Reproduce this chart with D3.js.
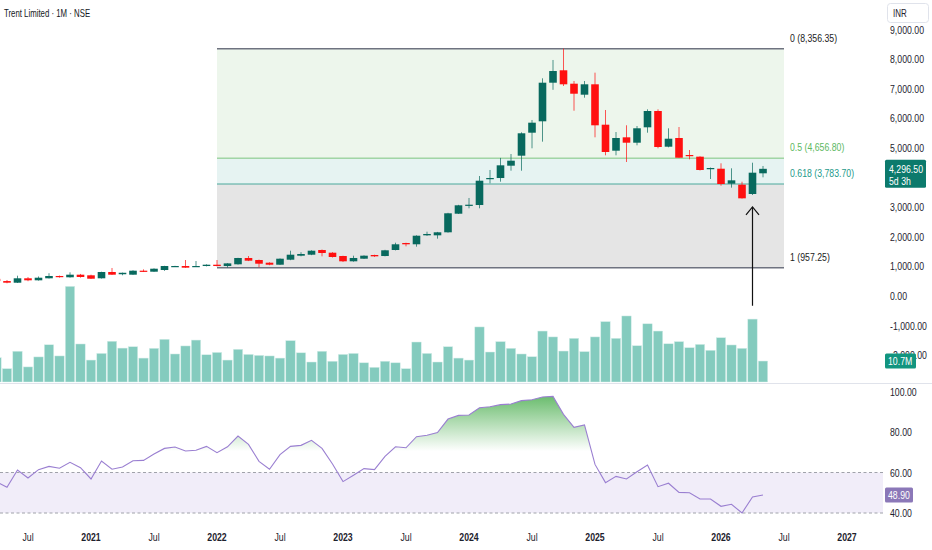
<!DOCTYPE html>
<html><head><meta charset="utf-8">
<script src="https://cdn.jsdelivr.net/npm/d3@7"></script>
<style>
html,body{margin:0;padding:0;background:#fff;}
svg{display:block;font-family:"Liberation Sans",Arial,sans-serif;}
</style></head><body>
<svg id="c" width="932" height="550"></svg>
<script>
// ---------------- DATA ----------------
const title = "Trent Limited · 1M · NSE";
const months = [
 "2020-04","2020-05","2020-06","2020-07","2020-08","2020-09","2020-10","2020-11","2020-12",
 "2021-01","2021-02","2021-03","2021-04","2021-05","2021-06","2021-07","2021-08","2021-09","2021-10","2021-11","2021-12",
 "2022-01","2022-02","2022-03","2022-04","2022-05","2022-06","2022-07","2022-08","2022-09","2022-10","2022-11","2022-12",
 "2023-01","2023-02","2023-03","2023-04","2023-05","2023-06","2023-07","2023-08","2023-09","2023-10","2023-11","2023-12",
 "2024-01","2024-02","2024-03","2024-04","2024-05","2024-06","2024-07","2024-08","2024-09","2024-10","2024-11","2024-12",
 "2025-01","2025-02","2025-03","2025-04","2025-05","2025-06","2025-07","2025-08","2025-09","2025-10","2025-11","2025-12",
 "2026-01","2026-02","2026-03","2026-04","2026-05"];
const open = [
 580,505,449,598,530,598,676,632,720,
 699,598,811,735,720,855,821,878,1000,1013,990,1013,
 1057,1013,1071,1284,1216,1125,1057,1226,1361,1395,1554,1463,
 1351,1172,1260,1385,1351,1554,1790,1747,2050,2050,2152,2780,
 3050,3074,3953,3986,4402,4740,5517,5902,7206,7625,7172,6801,
 7152,5787,4909,5361,5179,5699,6250,5044,5338,4763,4707,4300,
 4300,3794,3760,3446,4145];
const high = [
 600,540,686,640,660,770,690,800,745,
 720,820,946,790,870,900,935,1020,1020,1216,1182,1070,
 1216,1110,1290,1351,1230,1140,1270,1530,1480,1545,1570,1480,
 1360,1362,1375,1395,1560,1801,1800,2050,2172,2165,2810,3080,
 3311,4054,4257,4665,4797,5530,5946,7354,7973,8356.35,7264,7264,
 7545,6284,5540,5767,5743,6306,6306,5665,5709,4932,4720,4340,
 4483,4314,3861,4503,4392];
const low = [
 480,430,440,500,520,590,620,620,620,
 575,590,710,700,715,810,815,850,980,950,980,1000,
 1000,960,1060,1180,970,1040,1050,1210,1340,1380,1340,1300,
 1150,1160,1250,1320,1340,1540,1678,1666,2030,1937,2140,2770,
 2963,2963,3808,3862,4233,4233,4990,5214,6966,7095,6260,6700,
 5361,4753,4753,4527,5091,5517,4990,5023,4672,4617,4240,3953,
 3727,3660,3290,3412,4010];
const close = [
 505,450,598,530,618,676,642,720,642,
 584,811,720,785,855,821,922,1013,1013,957,1013,1057,
 1013,1102,1284,1193,1091,1057,1260,1395,1419,1530,1453,1318,
 1172,1284,1362,1340,1544,1747,1747,2037,2095,2152,2794,3064,
 3084,3895,3986,4415,4571,5497,5855,7206,7601,7152,6834,7152,
 5767,4865,5338,5179,5666,6250,5034,5314,4672,4730,4257,4324,
 3784,3908,3300,4166,4296.5];
const volume = [ // millions
 12.4,6.8,15.7,7.7,12.8,19.0,13.3,48.8,19.4,
 11.2,14.6,20.8,17.3,18.0,12.2,17.2,21.8,14.3,18.4,21.4,13.9,
 15.1,11.2,16.7,14.1,13.6,13.3,12.2,21.1,14.9,10.2,15.7,10.6,
 14.1,14.6,9.8,7.5,10.6,9.8,6.8,20.4,14.6,10.2,18.0,12.2,
 11.2,28.1,15.3,20.6,17.2,14.3,12.9,26.0,23.0,15.8,22.3,15.5,
 23.0,30.8,22.3,33.7,18.5,29.7,26.0,19.5,20.6,17.5,19.2,16.2,
 22.6,18.9,17.2,32.1,10.7];
const rsi = [
 55.4,52.7,61.2,57.3,61.4,63.0,62.1,65.0,62.4,
 56.8,65.7,61.6,62.7,65.8,66.0,69.1,71.9,72.6,70.6,71.0,72.9,
 69.8,72.7,78.0,73.9,65.5,61.6,68.8,72.9,73.4,75.9,71.9,64.2,
 55.5,58.6,61.9,61.4,68.0,72.7,72.2,77.7,78.4,79.7,86.4,88.2,
 88.4,92.0,92.5,93.5,93.8,95.5,95.9,97.3,97.6,88.7,82.3,83.5,
 64.0,55.0,58.1,56.8,60.4,63.7,53.0,54.7,50.2,50.0,46.9,46.9,
 43.3,44.3,40.0,47.9,48.9];
// 4,000.00 is hidden by the last-price tag in the reference
const priceTicks = [9000,8000,7000,6000,5000,3000,2000,1000,0,-1000,-2000];
const rsiTicks = [100,80,60,40];
const rsiBands = [60,40];
const timeTicks = ["2020-07","2021-01","2021-07","2022-01","2022-07","2023-01","2023-07","2024-01","2024-07","2025-01","2025-07","2026-01","2026-07","2027-01"];
const timeTickLabels = ["Jul","2021","Jul","2022","Jul","2023","Jul","2024","Jul","2025","Jul","2026","Jul","2027"];
const fibHigh = 8356.35, fibLow = 957.25;
const fibLevels = [0, 0.5, 0.618, 1];
const fibStart = "2022-01", fibEnd = "2026-07";
const arrowMonth = "2026-04", arrowFrom = -330, arrowTo = 3010;
const lastPriceLabel = ["4,296.50","5d 3h"];
const lastVolLabel = "10.7M";
const lastRsiLabel = "48.90";

// ---------------- SCALES ----------------
const mIdx = s => { const [y,m] = s.split("-").map(Number); return (y-2020)*12 + (m-1); };
const x = d3.scaleLinear().domain([12, 84]).range([91, 847]);
const yP = d3.scaleLinear().domain([0, 9000]).range([296, 29.6]);
const yV = d3.scaleLinear().domain([0, 50]).range([382, 284]);
const yR = d3.scaleLinear().domain([40, 100]).range([513, 391.5]);
const plotW = 883;
const SX = 0.76; // condensed text look

const data = months.map((m,i)=>({m, xi:mIdx(m), o:open[i], h:high[i], l:low[i], c:close[i], v:volume[i], r:rsi[i]}));

const svg = d3.select("#c");
function txt(xx, yy, s, opt={}) {
  const t = svg.append("text")
    .attr("transform", `translate(${xx},${yy}) scale(${opt.sx||SX},1)`)
    .attr("font-size", opt.size||11.5)
    .attr("fill", opt.fill||"#1e222d")
    .attr("text-anchor", opt.anchor||"start")
    .attr("dy", opt.dy==null ? "0.35em" : opt.dy)
    .text(s);
  if (opt.weight) t.attr("font-weight", opt.weight);
  return t;
}

const defs = svg.append("defs");
defs.append("clipPath").attr("id","pclip").append("rect").attr("x",0).attr("y",0).attr("width",plotW).attr("height",382.5);
defs.append("clipPath").attr("id","rclip").append("rect").attr("x",0).attr("y",384).attr("width",plotW).attr("height",140);
defs.append("clipPath").attr("id","obclip").append("rect").attr("x",0).attr("y",384).attr("width",plotW).attr("height",yR(70)-384);
const grad = defs.append("linearGradient").attr("id","obgrad").attr("gradientUnits","userSpaceOnUse")
  .attr("x1",0).attr("x2",0).attr("y1",yR(100)).attr("y2",yR(70.5));
grad.append("stop").attr("offset",0).attr("stop-color","#4caf50").attr("stop-opacity",0.9);
grad.append("stop").attr("offset",1).attr("stop-color","#4caf50").attr("stop-opacity",0);

// ---------------- PRICE PANE ----------------
const pg = svg.append("g").attr("clip-path","url(#pclip)");
const fibPrice = l => fibHigh - l*(fibHigh - fibLow);
const fx0 = x(mIdx(fibStart)), fx1 = x(mIdx(fibEnd));
const zoneFills = ["#edf6ec","#e6f3f2","#e5e5e5"];
for (let i=0;i<fibLevels.length-1;i++){
  const a = yP(fibPrice(fibLevels[i])), b = yP(fibPrice(fibLevels[i+1]));
  pg.append("rect").attr("x",fx0).attr("y",a).attr("width",fx1-fx0).attr("height",b-a).attr("fill",zoneFills[i]);
}
const fibLineColors = ["#6f7380","#7cc47f","#4aa89c","#6f7380"];
const fibLineW = [1.5,1,1,1.5];
fibLevels.forEach((l,i)=>{
  const yy = yP(fibPrice(l));
  pg.append("line").attr("x1",fx0).attr("x2",fx1).attr("y1",yy).attr("y2",yy)
    .attr("stroke",fibLineColors[i]).attr("stroke-width",fibLineW[i]);
});

// Volume
const vw = 9.4;
pg.selectAll("rect.vol").data(data).join("rect").attr("class","vol")
  .attr("x",d=>x(d.xi)-vw/2).attr("width",vw)
  .attr("y",d=>yV(d.v)).attr("height",d=>yV(0)-yV(d.v))
  .attr("fill","#84cbbe").attr("stroke","#d6eeea").attr("stroke-width",0.5);

// Candles
const up = "#08695e", dn = "#ff1010";
const cw = 7.6;
const cg = pg.selectAll("g.c").data(data).join("g").attr("class","c");
cg.append("line").attr("x1",d=>x(d.xi)).attr("x2",d=>x(d.xi))
  .attr("y1",d=>yP(d.h)).attr("y2",d=>yP(d.l))
  .attr("stroke",d=>d.c>=d.o?up:dn).attr("stroke-width",1).attr("stroke-opacity",0.7);
cg.append("rect").attr("x",d=>x(d.xi)-cw/2).attr("width",cw)
  .attr("y",d=>yP(Math.max(d.o,d.c)))
  .attr("height",d=>Math.max(1.2, Math.abs(yP(d.o)-yP(d.c))))
  .attr("fill",d=>d.c>=d.o?up:dn);

// Arrow annotation
const ax = x(mIdx(arrowMonth)), ayT = yP(arrowTo), ayB = yP(arrowFrom);
pg.append("line").attr("x1",ax).attr("x2",ax).attr("y1",ayT).attr("y2",ayB).attr("stroke","#111").attr("stroke-width",1.2);
pg.append("path").attr("d",`M${ax-6.5},${ayT+8} L${ax},${ayT} L${ax+6.5},${ayT+8}`).attr("fill","none").attr("stroke","#111").attr("stroke-width",1.2);

// Fib labels
const fibLabelColors = ["#222","#5cb85f","#1e9a8a","#222"];
const fmt = d3.format(",.2f");
fibLevels.forEach((l,i)=>{
  const p = Math.floor(fibPrice(l)*100 + 1e-6)/100;
  txt(fx1+6, yP(p)-11, `${l} (${fmt(p)})`, {fill:fibLabelColors[i]});
});

// ---------------- PANE SEPARATOR ----------------
svg.append("line").attr("x1",0).attr("x2",932).attr("y1",383.5).attr("y2",383.5).attr("stroke","#e0e3eb").attr("stroke-width",1);

// ---------------- RSI PANE ----------------
const rg = svg.append("g").attr("clip-path","url(#rclip)");
rg.append("rect").attr("x",0).attr("width",plotW).attr("y",yR(rsiBands[0])).attr("height",yR(rsiBands[1])-yR(rsiBands[0])).attr("fill","#f1edf9");
rsiBands.forEach(b=>{
  rg.append("line").attr("x1",0).attr("x2",plotW).attr("y1",yR(b)).attr("y2",yR(b))
    .attr("stroke","#a0a2aa").attr("stroke-width",1).attr("stroke-dasharray","3,2.5");
});
rg.append("path").datum(data).attr("clip-path","url(#obclip)")
  .attr("d", d3.area().x(d=>x(d.xi)).y0(yR(70)).y1(d=>yR(d.r)))
  .attr("fill","url(#obgrad)");
rg.append("path").datum(data)
  .attr("d", d3.line().x(d=>x(d.xi)).y(d=>yR(d.r)))
  .attr("fill","none").attr("stroke","#9a7fd1").attr("stroke-width",1.1);

// ---------------- AXES ----------------
priceTicks.forEach(t=> txt(890, yP(t), fmt(t).replace("−","-")));
rsiTicks.forEach(t=> txt(890, yR(t), fmt(t)));
timeTicks.forEach((t,i)=>{
  const isYear = timeTickLabels[i] !== "Jul";
  txt(x(mIdx(t)), 537, timeTickLabels[i], {anchor:"middle", weight:isYear?"bold":null});
});

// Title
txt(4, 13, title, {size:11.5, fill:"#131722", sx:0.68});

// INR box
svg.append("rect").attr("x",887.5).attr("y",3.5).attr("width",41).attr("height",19).attr("rx",3)
  .attr("fill","#fff").attr("stroke","#e0e3eb");
txt(893, 13, "INR", {size:10.5});

// Last price label
const last = data[data.length-1];
const lpY = yP(last.c);
svg.append("rect").attr("x",885).attr("y",lpY-9).attr("width",41).attr("height",28).attr("rx",1.5).attr("fill","#0c7a6c");
txt(889, lpY, lastPriceLabel[0], {fill:"#fff"});
txt(889, lpY+12.5, lastPriceLabel[1], {fill:"#fff"});

// Last volume label
const lvY = yV(last.v);
svg.append("rect").attr("x",885).attr("y",lvY-7.5).attr("width",31).attr("height",15).attr("rx",1.5).attr("fill","#12957f");
txt(888, lvY, lastVolLabel, {fill:"#fff"});

// Last RSI label
const lrY = yR(last.r);
svg.append("rect").attr("x",885).attr("y",lrY-7.5).attr("width",28).attr("height",15).attr("rx",1.5).attr("fill","#8b78b8");
txt(888, lrY, lastRsiLabel, {fill:"#fff"});
</script>
</body></html>
